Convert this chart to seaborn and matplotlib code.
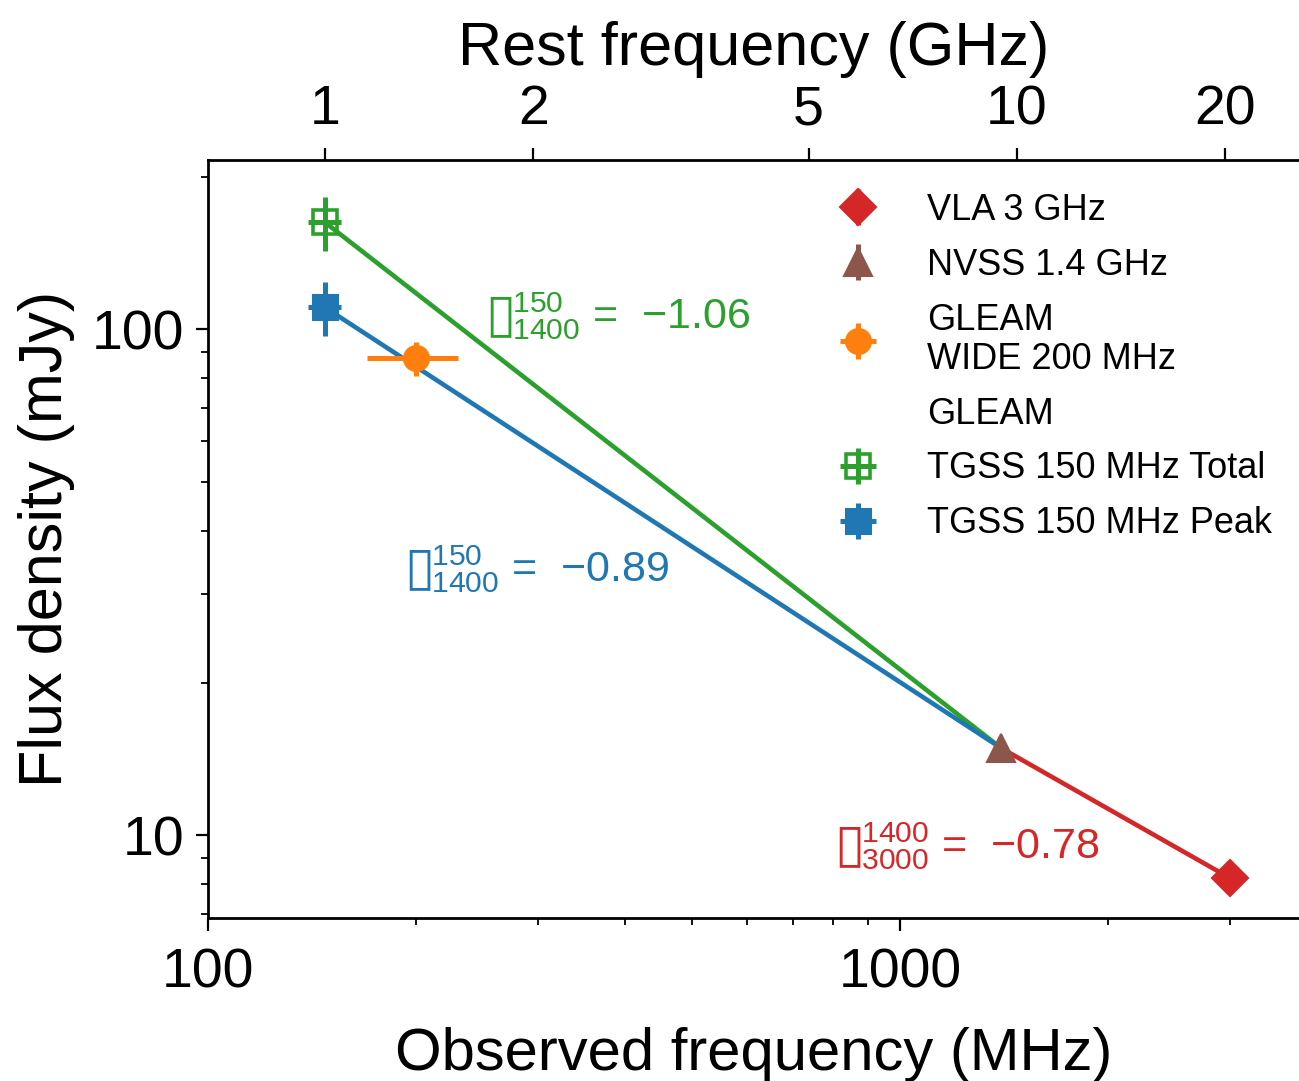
import numpy as np
import pandas as pd
import matplotlib
matplotlib.use("Agg")
import matplotlib.pyplot as plt
import seaborn as sns
from matplotlib.ticker import FixedLocator, NullLocator, NullFormatter, FixedFormatter, LogLocator

# ---------------- data ----------------
labels = ["VLA 3 GHz", "NVSS 1.4 GHz", "GLEAM\nWIDE 200 MHz", "TGSS 150 MHz Total", "TGSS 150 MHz Peak"]
freq_mhz = [3000.0, 1400.0, 200.0, 147.5, 147.5]
flux_mjy = [8.22, 14.86, 87.6, 162.7, 110.5]
flux_err = [0.45, 0.6, 6.6, 20.0, 13.5]
freq_err = [None, None, 30.0, 8.0, 8.0]
markers = ["D", "^", "o", "s", "s"]
colors = ["#d62728", "#8c564b", "#ff7f0e", "#2ca02c", "#1f77b4"]
extra_label = "GLEAM"

# spectral-index segments: (name, start index, end index)
seg_names = ["total", "peak", "vla"]
seg_start = [3, 4, 1]
seg_end = [1, 1, 0]
seg_colors = ["#2ca02c", "#1f77b4", "#d62728"]
alpha_text = ["$\u25af^{150}_{1400}$ =  \u22121.06",
              "$\u25af^{150}_{1400}$ =  \u22120.89",
              "$\u25af^{1400}_{3000}$ =  \u22120.78"]

one_plus_z = 1000.0 / 147.5
rest_ticks = [1, 2, 5, 10, 20]
x_ticks = [100, 1000]
y_ticks = [10, 100]

# ---------------- style ----------------
sns.set_theme(style="ticks")
plt.rcParams["font.family"] = ["Liberation Sans", "DejaVu Sans"]
plt.rcParams["mathtext.fontset"] = "custom"
plt.rcParams["mathtext.rm"] = "Liberation Sans"
plt.rcParams["mathtext.it"] = "Liberation Sans"
plt.rcParams["mathtext.fallback"] = "stixsans"
for k in ["text.color", "axes.labelcolor", "xtick.color", "ytick.color", "axes.edgecolor"]:
    plt.rcParams[k] = "black"

W, H = 1299, 1081
fig = plt.figure(figsize=(W / 100, H / 100), dpi=100)
L, R, T, B = 208, 1299, 160, 918
ax = fig.add_axes([L / W, 1 - B / H, (R - L) / W, (B - T) / H])
ax.set_xscale("log")
ax.set_yscale("log")
ax.set_xlim(100, 3770)
ax.set_ylim(6.86, 216)

# connecting lines
rows = []
for n, s, e in zip(seg_names, seg_start, seg_end):
    rows.append(dict(seg=n, x=freq_mhz[s], y=flux_mjy[s]))
    rows.append(dict(seg=n, x=freq_mhz[e], y=flux_mjy[e]))
df = pd.DataFrame(rows)
sns.lineplot(data=df, x="x", y="y", hue="seg", hue_order=seg_names,
             palette=dict(zip(seg_names, seg_colors)), sort=False,
             estimator=None, units="seg", lw=3.3, legend=False, ax=ax, zorder=2)

# data points
handles = {}
msizes = {"D": 18, "^": 20, "o": 18, "s": 18}
for i in range(len(labels)):
    hollow = (i == 3)
    h = ax.errorbar(freq_mhz[i], flux_mjy[i], yerr=flux_err[i],
                    xerr=freq_err[i], fmt=markers[i], color=colors[i],
                    ms=17 if hollow else msizes[markers[i]],
                    mfc="white" if hollow else colors[i],
                    fillstyle="none" if hollow else "full",
                    mec=colors[i], mew=2.6 if hollow else 1.5,
                    elinewidth=3.6, capsize=0, zorder=5, label=labels[i])
    handles[i] = h
empty, = ax.plot([], [], ls="none", marker="none", label=extra_label)

leg_handles = [handles[0], handles[1], handles[2], empty, handles[3], handles[4]]
leg_labels = [labels[0], labels[1], labels[2], extra_label, labels[3], labels[4]]
leg = ax.legend(leg_handles, leg_labels, loc="upper left",
                bbox_to_anchor=((840 - L) / (R - L), (B - 193) / (B - T)),
                frameon=False, fontsize=26, handlelength=1.0,
                handletextpad=1.4, labelspacing=0.55, borderpad=0,
                borderaxespad=0)
for t in leg.get_texts():
    t.set_linespacing(1.15)

# spectral index annotations
ann_pos = [(488, 316), (407, 569), (837, 846)]
for txt, c, (px, py) in zip(alpha_text, seg_colors, ann_pos):
    ax.text((px - L) / (R - L), (B - py) / (B - T), txt, color=c,
            fontsize=31, ha="left", va="center", transform=ax.transAxes)

# axes styling
for sp in ["top", "right"]:
    ax.spines[sp].set_visible(False)
for sp in ["left", "bottom"]:
    ax.spines[sp].set_linewidth(2.0)
    ax.spines[sp].set_color("black")

ax.xaxis.set_major_locator(FixedLocator(x_ticks))
ax.xaxis.set_major_formatter(FixedFormatter([str(v) for v in x_ticks]))
ax.xaxis.set_minor_locator(LogLocator(base=10, subs=np.arange(2, 10)))
ax.xaxis.set_minor_formatter(NullFormatter())
ax.yaxis.set_major_locator(FixedLocator(y_ticks))
ax.yaxis.set_major_formatter(FixedFormatter([str(v) for v in y_ticks]))
ax.yaxis.set_minor_locator(LogLocator(base=10, subs=np.arange(2, 10)))
ax.yaxis.set_minor_formatter(NullFormatter())
ax.tick_params(which="major", direction="out", length=9, width=1.6,
               labelsize=40, color="black", labelcolor="black", pad=8)
ax.tick_params(which="minor", direction="out", length=5, width=1.3, color="black")
ax.tick_params(axis="x", which="major", pad=12)

ax.set_xlabel("Observed frequency (MHz)", fontsize=43, labelpad=20, color="black")
ax.set_ylabel("Flux density (mJy)", fontsize=44, labelpad=12, color="black")

sec = ax.secondary_xaxis("top", functions=(lambda x: x * one_plus_z / 1000.0,
                                           lambda r: r * 1000.0 / one_plus_z))
sec.xaxis.set_major_locator(FixedLocator(rest_ticks))
sec.xaxis.set_major_formatter(FixedFormatter([str(v) for v in rest_ticks]))
sec.xaxis.set_minor_locator(NullLocator())
sec.tick_params(which="major", direction="out", length=9, width=1.6,
                labelsize=40, color="black", labelcolor="black", pad=8)
sec.spines["top"].set_linewidth(2.0)
sec.spines["top"].set_color("black")
sec.set_xlabel("Rest frequency (GHz)", fontsize=44, labelpad=14, color="black")

fig.savefig("out.png", dpi=100, facecolor="white")
